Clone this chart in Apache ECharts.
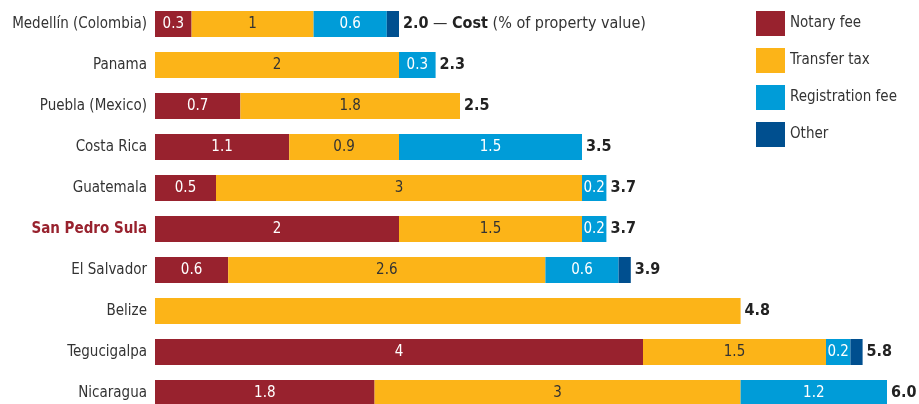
<!DOCTYPE html>
<html>
<head>
<meta charset="utf-8">
<script src="https://cdn.jsdelivr.net/npm/echarts@6/dist/echarts.min.js"></script>
<style>
html,body{margin:0;padding:0;background:#fff;}
#chart{width:919px;height:404px;}
</style>
</head>
<body>
<div id="chart"></div>
<script>
var categories = ["Medellín (Colombia)", "Panama", "Puebla (Mexico)", "Costa Rica", "Guatemala", "San Pedro Sula", "El Salvador", "Belize", "Tegucigalpa", "Nicaragua"];
var notaryFee = [0.3, null, 0.7, 1.1, 0.5, 2, 0.6, null, 4, 1.8];
var transferTax = [1, 2, 1.8, 0.9, 3, 1.5, 2.6, 4.8, 1.5, 3];
var registrationFee = [0.6, 0.3, null, 1.5, 0.2, 0.2, 0.6, null, 0.2, 1.2];
var other = [0.1, null, null, null, null, null, 0.1, null, 0.1, null];
var totals = [2.0, 2.3, 2.5, 3.5, 3.7, 3.7, 3.9, 4.8, 5.8, 6.0];

var FONT = '"Liberation Sans Narrow", "DejaVu Sans Condensed", "Roboto", sans-serif';
var catRev = categories.slice().reverse();
function rev(a){ return a.slice().reverse(); }
var totalByName = {};
categories.forEach(function(c, i){ totalByName[c] = totals[i]; });

function seg(name, data, color, labelColor) {
  return {
    name: name, type: 'bar', stack: 'cost', data: rev(data),
    barWidth: 26,
    itemStyle: { color: color },
    label: { show: true, position: 'inside', color: labelColor, fontFamily: FONT, fontSize: 15,
      formatter: function(p){
        if (p.value === null || p.value === undefined || p.value < 0.15) return '';
        if (Math.abs(p.value - totalByName[p.name]) < 1e-9) return '';
        return String(p.value);
      } },
    emphasis: { disabled: true }
  };
}

var chart = echarts.init(document.getElementById('chart'), null, { renderer: 'canvas' });
chart.setOption({
  animation: false,
  grid: { left: 155, top: 3.5, width: 732, height: 410, containLabel: false, outerBoundsMode: 'none' },
  xAxis: { type: 'value', min: 0, max: 6, show: false },
  yAxis: {
    type: 'category', data: catRev,
    axisLine: { show: false }, axisTick: { show: false },
    axisLabel: {
      margin: 8, fontFamily: FONT, fontSize: 15, color: '#333',
      formatter: function(v){ return v === 'San Pedro Sula' ? '{h|' + v + '}' : v; },
      rich: { h: { fontFamily: FONT, fontSize: 15, fontWeight: 'bold', color: '#98222e' } }
    }
  },
  legend: {
    orient: 'vertical', left: 756, top: 11, padding: 0, itemWidth: 29, itemHeight: 25, itemGap: 12,
    icon: 'rect',
    data: ['Notary fee', 'Transfer tax', 'Registration fee', 'Other'],
    textStyle: { fontFamily: FONT, fontSize: 15, color: '#333' },
    selectedMode: false
  },
  series: [
    seg('Notary fee', notaryFee, '#98222e', '#fff'),
    seg('Transfer tax', transferTax, '#fcb418', '#333'),
    seg('Registration fee', registrationFee, '#009cd8', '#fff'),
    seg('Other', other, '#004f8f', '#fff'),
    {
      name: 'Total', type: 'bar', data: rev(totals), barWidth: 26, barGap: '-100%', z: 0,
      itemStyle: { color: 'rgba(0,0,0,0)' },
      emphasis: { disabled: true },
      label: {
        show: true, position: 'right', distance: 4, fontFamily: FONT, fontSize: 16, color: '#222', fontWeight: 'bold',
        formatter: function(p){
          var v = p.value.toFixed(1);
          if (p.name === 'Medellín (Colombia)') return '{b|' + v + '}{n| — }{b|Cost}{n| (% of property value)}';
          return '{b|' + v + '}';
        },
        rich: {
          b: { fontFamily: FONT, fontSize: 16, fontWeight: 'bold', color: '#222' },
          n: { fontFamily: FONT, fontSize: 16, fontWeight: 'normal', color: '#333' }
        }
      }
    }
  ]
});
</script>
</body>
</html>
